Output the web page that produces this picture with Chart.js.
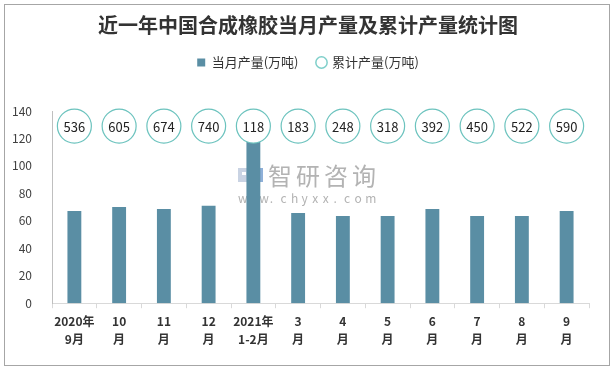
<!DOCTYPE html>
<html>
<head>
<meta charset="utf-8">
<script src="https://cdn.jsdelivr.net/npm/chart.js@4/dist/chart.umd.min.js"></script>
<style>
  html, body { margin: 0; padding: 0; background: #fff; }
  #wrap { width: 616px; height: 370px; }
</style>
</head>
<body>
<div id="wrap"><canvas id="myChart" width="616" height="370"></canvas></div>
<script>
// months on the x axis (two lines each)
const labels = [
  ['2020年', '9月'], ['10', '月'], ['11', '月'], ['12', '月'], ['2021年', '1-2月'],
  ['3', '月'], ['4', '月'], ['5', '月'], ['6', '月'], ['7', '月'], ['8', '月'], ['9', '月']
];

// monthly output (10k tons)
const monthly = [67.2, 70.1, 68.6, 70.9, 117.5, 65.7, 63.5, 63.5, 68.7, 63.5, 63.5, 67.2];

// cumulative output (10k tons), shown in the circles
const cumulative = [536, 605, 674, 740, 118, 183, 248, 318, 392, 450, 522, 590];

const yTicks = [0, 20, 40, 60, 80, 100, 120, 140];

const FONT = "'Noto Sans CJK SC', 'Noto Sans', sans-serif";

// circles with the cumulative numbers, drawn in one row near the top
const circleRow = {
  id: 'circleRow',
  afterDatasetsDraw(chart) {
    const ctx = chart.ctx;
    const x = chart.scales.x;
    const y = chart.scales.y;
    const cy = y.getPixelForValue(129);
    ctx.save();
    cumulative.forEach((v, i) => {
      const cx = x.getPixelForValue(i);
      ctx.beginPath();
      ctx.arc(cx, cy, 17, 0, Math.PI * 2);
      ctx.fillStyle = '#fff';
      ctx.fill();
      ctx.lineWidth = 1.2;
      ctx.strokeStyle = '#6cc3be';
      ctx.stroke();
      ctx.fillStyle = '#222';
      ctx.font = "13px " + FONT;
      ctx.textAlign = 'center';
      ctx.textBaseline = 'middle';
      ctx.fillText(String(v), cx, cy + 1);
    });
    ctx.restore();
  }
};

// frame and watermark
const decor = {
  id: 'decor',
  beforeDraw(chart) {
    const ctx = chart.ctx;
    ctx.save();
    ctx.strokeStyle = '#a6a6a6';
    ctx.lineWidth = 1;
    ctx.strokeRect(4.5, 4.5, 605, 361);
    ctx.restore();
  },
  beforeDatasetsDraw(chart) {
    const ctx = chart.ctx;
    ctx.save();
    // little logo
    ctx.fillStyle = '#c9d3e3';
    ctx.fillRect(238, 168, 11, 14);
    ctx.fillStyle = '#8fb0d8';
    ctx.fillRect(250, 168, 13, 14);
    ctx.fillStyle = '#fff';
    ctx.fillRect(242, 172, 4, 3);
    ctx.fillRect(253, 176, 7, 3);
    ctx.fillStyle = '#b3b3b3';
    ctx.font = "24px " + FONT;
    ctx.textBaseline = 'middle';
    ctx.textAlign = 'left';
    let px = 268;
    for (const ch of '智研咨询') { ctx.fillText(ch, px, 176); px += 28; }
    ctx.font = "12px " + FONT;
    px = 238;
    for (const ch of 'www.chyxx.com') { ctx.fillText(ch, px, 198); px += 10.6; }
    ctx.restore();
  }
};

// push plot area down below the legend
const legendGap = {
  id: 'legendGap',
  beforeInit(chart) {
    const fit = chart.legend.fit;
    chart.legend.fit = function () {
      fit.bind(this)();
      this.height += 32;
    };
  }
};

const data = {
  labels: labels,
  datasets: [{
    type: 'bar',
    label: '当月产量(万吨)',
    data: monthly,
    backgroundColor: '#5a8ea4',
    borderWidth: 0,
    barPercentage: 0.31,
    categoryPercentage: 1.0,
    order: 2
  }, {
    type: 'line',
    label: '累计产量(万吨)',
    data: [],
    showLine: false,
    pointStyle: 'circle',
    backgroundColor: '#fff',
    borderColor: '#7fcfca',
    borderWidth: 1.5,
    order: 1
  }]
};

const config = {
  type: 'bar',
  data: data,
  plugins: [decor, circleRow, legendGap],
  options: {
    responsive: false,
    animation: false,
    layout: { padding: { top: 7, left: 0, right: 0, bottom: 17 } },
    plugins: {
      title: {
        display: true,
        text: '近一年中国合成橡胶当月产量及累计产量统计图',
        color: '#333',
        font: { family: FONT, size: 20, weight: 'bold' },
        padding: { top: 6, bottom: 0 }
      },
      legend: {
        display: true,
        labels: {
          color: '#333',
          font: { family: FONT, size: 13 },
          boxWidth: 8,
          boxHeight: 8,
          usePointStyle: true,
          generateLabels(chart) {
            return chart.data.datasets.map((ds, i) => ({
              text: ds.label,
              fillStyle: ds.backgroundColor,
              strokeStyle: i === 0 ? ds.backgroundColor : ds.borderColor,
              lineWidth: i === 0 ? 0 : 1.5,
              pointStyle: i === 0 ? 'rect' : 'circle',
              datasetIndex: i,
              fontColor: '#333'
            }));
          },
          padding: 19
        }
      },
      tooltip: { enabled: false }
    },
    scales: {
      x: {
        grid: {
          display: true,
          offset: true,
          drawOnChartArea: false,
          tickLength: 5,
          color: '#d9d9d9'
        },
        border: { color: '#d9d9d9' },
        ticks: {
          color: '#333',
          font: { family: FONT, size: 12, weight: 'bold', lineHeight: 1.45 },
          maxRotation: 0,
          autoSkip: false,
          padding: 5
        }
      },
      y: {
        min: 0,
        max: 140,
        afterFit(scale) { scale.width = 52; },
        afterBuildTicks(scale) { scale.ticks = yTicks.map(v => ({ value: v })); },
        grid: { display: false },
        border: { display: true, color: '#bfbfbf' },
        ticks: {
          color: '#404040',
          font: { family: FONT, size: 12 },
          padding: 12
        }
      },
      // empty right-hand strip so title and legend stay centred on the page
      yRight: {
        position: 'right',
        min: 0,
        max: 140,
        afterFit(scale) { scale.width = 27; },
        grid: { display: false },
        border: { display: false },
        ticks: { display: false }
      }
    }
  }
};

const ctx = document.getElementById('myChart').getContext('2d');
const myChart = new Chart(ctx, config);
</script>
</body>
</html>
